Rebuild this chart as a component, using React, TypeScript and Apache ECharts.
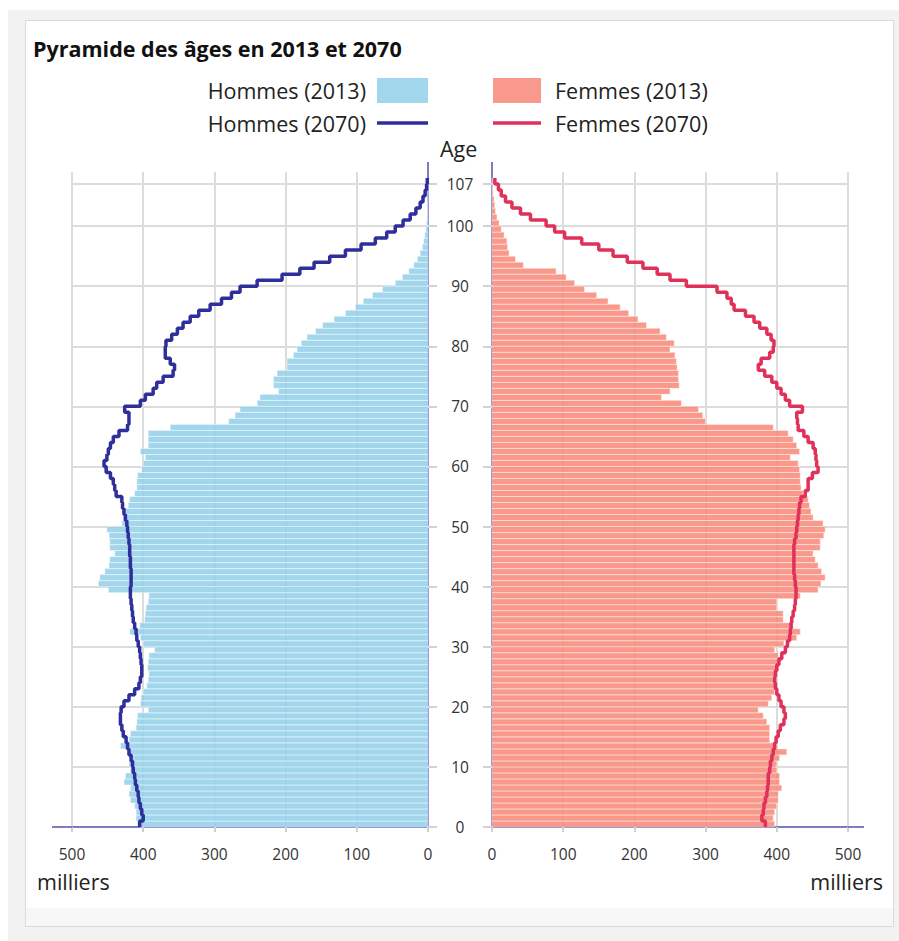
import React, { useEffect, useRef } from "react";
import * as echarts from "echarts";

// Age categories 0..107 (one bar per year of age)
const AGES: number[] = Array.from({ length: 108 }, (_, i) => i);
const AGE_TICKS = [0, 10, 20, 30, 40, 50, 60, 70, 80, 90, 100, 107];

const TITLE = "Pyramide des âges en 2013 et 2070";
const NAME_M13 = "Hommes (2013)";
const NAME_M70 = "Hommes (2070)";
const NAME_F13 = "Femmes (2013)";
const NAME_F70 = "Femmes (2070)";

// milliers, index = age
const HOMMES_2013 = [
  405, 410, 410, 412, 418, 420, 418, 427, 425, 418,
  420, 418, 419, 432, 420, 418, 410, 409, 408, 393,
  404, 403, 400, 395, 393, 392, 394, 393, 392, 384,
  400, 404, 419, 405, 398, 397, 396, 393, 392, 449,
  463, 461, 454, 448, 447, 440, 447, 447, 448, 451,
  430, 428, 425, 421, 419, 412, 409, 409, 408, 402,
  400, 397, 404, 393, 393, 393, 362, 280, 271, 264,
  240, 236, 210, 217, 217, 212, 198, 198, 189, 184,
  178, 170, 158, 148, 132, 116, 102, 91, 78, 64,
  46, 36, 27, 20, 15, 11, 8, 6, 4.5, 3,
  2, 1.4, 0.9, 0.6, 0.4, 0.2, 0.1, 0.1,
];

const HOMMES_2070 = [
  405, 400, 402, 404, 406, 407, 409, 411, 412, 414,
  415, 417, 420, 422, 424, 428, 430, 432, 432, 431,
  427, 420, 412, 406, 404, 402, 402, 403, 404, 405,
  407, 409, 410, 412, 414, 415, 416, 417, 418, 418,
  417, 417, 417, 418, 418, 419, 419, 420, 421, 422,
  423, 425, 427, 429, 430, 438, 440, 442, 446, 452,
  455, 451, 449, 446, 442, 434, 422, 420, 420, 426,
  404, 397, 386, 381, 372, 358, 356, 362, 369, 369,
  368, 360, 352, 344, 334, 322, 306, 290, 276, 264,
  240, 205, 180, 160, 138, 116, 94, 74, 58, 46,
  35, 25, 17, 11, 7, 4, 2, 1,
];

const FEMMES_2013 = [
  397, 395, 397, 400, 402, 402, 407, 404, 404, 400,
  400, 404, 414, 395, 390, 390, 390, 386, 381, 374,
  388, 393, 397, 397, 397, 397, 402, 402, 402, 397,
  410, 428, 433, 423, 409, 409, 400, 400, 433, 458,
  462, 468, 463, 458, 454, 451, 461, 461, 466, 468,
  465, 451, 448, 446, 444, 437, 434, 433, 433, 432,
  430, 419, 432, 428, 423, 416, 395, 300, 296, 290,
  266, 238, 250, 263, 262, 262, 260, 259, 257, 250,
  256, 245, 236, 217, 205, 192, 180, 163, 147, 130,
  116, 104, 90, 44, 33, 24, 22, 21, 17, 13,
  10, 7, 5, 4, 3, 1.5, 1, 0.5,
];

const FEMMES_2070 = [
  384, 379, 381, 382, 384, 386, 387, 388, 388, 390,
  391, 393, 395, 397, 399, 402, 405, 410, 412, 410,
  406, 403, 400, 398, 397, 398, 400, 403, 407, 412,
  415, 418, 419, 420, 421, 423, 425, 426, 427, 427,
  426, 425, 424, 424, 424, 424, 424, 425, 427, 428,
  429, 430, 431, 432, 434, 440, 444, 444, 450, 458,
  456, 455, 454, 451, 444, 438, 430, 429, 428, 436,
  418, 412, 406, 400, 393, 383, 374, 378, 390, 395,
  396, 392, 386, 376, 368, 356, 340, 336, 330, 316,
  273, 250, 232, 212, 190, 170, 150, 126, 102, 88,
  76, 54, 40, 28, 19, 13, 9, 4,
];

const FONT = "'Open Sans', 'Noto Sans', sans-serif";
const AXIS_PURPLE = "#7d7dc2";
const GRID_GRAY = "#dcdcdc";
const C_M13 = "rgba(146,207,233,0.85)";
const C_F13 = "rgba(248,135,119,0.85)";
const C_M70 = "#2f2f9b";
const C_F70 = "#e0315b";
const LINE_ICON = "path://M0 0H51V3.5H0Z";

function barRender(color: string) {
  return (params: any, api: any) => {
    const v = api.value(0);
    const a = api.value(1);
    const p0 = api.coord([0, a]);
    const p1 = api.coord([v, a + 1]);
    const x = Math.min(p0[0], p1[0]);
    const y = Math.min(p0[1], p1[1]);
    return {
      type: "rect",
      shape: { x, y, width: Math.abs(p1[0] - p0[0]), height: Math.abs(p1[1] - p0[1]) },
      style: { fill: color, stroke: "rgba(255,255,255,0.45)", lineWidth: 1 },
    };
  };
}

function lineData(values: number[]) {
  const pts = AGES.map((a, i) => [values[i], a]);
  // close the last one-year step at its upper edge
  pts.push([values[values.length - 1], AGES[AGES.length - 1] + 1]);
  return pts;
}

export default function App() {
  const ref = useRef<HTMLDivElement>(null);

  useEffect(() => {
    if (!ref.current) return;
    const chart = echarts.init(ref.current, null, { renderer: "svg" });

    const xAxisBase = (gridIndex: number, inverse: boolean) => ({
      gridIndex,
      type: "value",
      min: 0,
      max: 500,
      interval: 100,
      inverse,
      axisLine: { show: true, lineStyle: { color: AXIS_PURPLE, width: 2 } },
      axisTick: { show: true, length: 5, lineStyle: { color: "#cfcfcf", width: 2 } },
      axisLabel: { fontSize: 15.5, fontFamily: FONT, color: "#333", margin: 19 },
      splitLine: { show: true, lineStyle: { color: GRID_GRAY, width: 2 } },
    });

    const yAxisBase = (gridIndex: number, position: string, showLabel: boolean) => ({
      gridIndex,
      type: "value",
      min: 0,
      max: 109,
      position,
      axisLine: { show: true, onZero: false, lineStyle: { color: AXIS_PURPLE, width: 2 } },
      axisTick: {
        show: true,
        length: 9,
        customValues: AGE_TICKS,
        lineStyle: { color: "#d2d2d2", width: 2 },
      },
      axisLabel: {
        show: showLabel,
        customValues: AGE_TICKS,
        fontSize: 15.5,
        fontFamily: FONT,
        color: "#333",
        align: "center",
        margin: 32,
      },
      splitLine: { show: true, customValues: AGE_TICKS, lineStyle: { color: GRID_GRAY, width: 2 } },
    });

    const legendText = (pad: number[]) => ({
      fontSize: 21.5,
      fontFamily: FONT,
      color: "#222",
      padding: pad,
    });

    const option: any = {
      animation: false,
      backgroundColor: "transparent",
      title: {
        text: TITLE,
        left: 33,
        top: 37,
        padding: 0,
        textStyle: { fontSize: 21.5, fontWeight: "bold", fontFamily: FONT, color: "#111" },
      },
      legend: [
        {
          data: [
            { name: NAME_M13, icon: "rect" },
            { name: NAME_M70, icon: LINE_ICON },
          ],
          orient: "vertical",
          right: 471,
          top: 78,
          align: "right",
          itemWidth: 51,
          itemHeight: 25,
          itemGap: 9,
          padding: 0,
          selectedMode: false,
          textStyle: legendText([0, 6, 0, 0]),
        },
        {
          data: [
            { name: NAME_F13, icon: "rect" },
            { name: NAME_F70, icon: LINE_ICON },
          ],
          orient: "vertical",
          left: 493,
          top: 78,
          align: "left",
          itemWidth: 48,
          itemHeight: 25,
          itemGap: 9,
          padding: 0,
          selectedMode: false,
          textStyle: legendText([0, 0, 0, 9]),
        },
      ],
      grid: [
        { left: 72, top: 172, width: 356, height: 655 },
        { left: 492, top: 172, width: 356, height: 655 },
      ],
      xAxis: [xAxisBase(0, true), xAxisBase(1, false)],
      yAxis: [yAxisBase(0, "right", false), yAxisBase(1, "left", true)],
      series: [
        {
          name: NAME_M13,
          type: "custom",
          xAxisIndex: 0,
          yAxisIndex: 0,
          itemStyle: { color: C_M13 },
          encode: { x: 0, y: 1 },
          renderItem: barRender(C_M13),
          data: AGES.map((a, i) => [HOMMES_2013[i], a]),
          z: 2,
        },
        {
          name: NAME_F13,
          type: "custom",
          xAxisIndex: 1,
          yAxisIndex: 1,
          itemStyle: { color: C_F13 },
          encode: { x: 0, y: 1 },
          renderItem: barRender(C_F13),
          data: AGES.map((a, i) => [FEMMES_2013[i], a]),
          z: 2,
        },
        {
          name: NAME_M70,
          type: "line",
          xAxisIndex: 0,
          yAxisIndex: 0,
          step: "start",
          symbol: "none",
          showSymbol: false,
          clip: false,
          lineStyle: { color: C_M70, width: 3.5 },
          itemStyle: { color: C_M70 },
          data: lineData(HOMMES_2070),
          z: 5,
        },
        {
          name: NAME_F70,
          type: "line",
          xAxisIndex: 1,
          yAxisIndex: 1,
          step: "start",
          symbol: "none",
          showSymbol: false,
          clip: false,
          lineStyle: { color: C_F70, width: 3.5 },
          itemStyle: { color: C_F70 },
          data: lineData(FEMMES_2070),
          z: 5,
        },
      ],
      graphic: [
        {
          type: "text",
          left: 440,
          top: 137,
          style: { text: "Age", fontSize: 21.5, fontFamily: FONT, fill: "#222" },
        },
        {
          type: "text",
          left: 37,
          top: 870,
          style: { text: "milliers", fontSize: 21.5, fontFamily: FONT, fill: "#222" },
        },
        {
          type: "text",
          right: 16,
          top: 870,
          style: { text: "milliers", fontSize: 21.5, fontFamily: FONT, fill: "#222" },
        },
        // x-axis line extensions beyond 500
        {
          type: "line",
          shape: { x1: 52, y1: 827, x2: 72, y2: 827 },
          style: { stroke: AXIS_PURPLE, lineWidth: 2 },
          z: 10,
        },
        {
          type: "line",
          shape: { x1: 848, y1: 827, x2: 864, y2: 827 },
          style: { stroke: AXIS_PURPLE, lineWidth: 2 },
          z: 10,
        },
        // y-axis line extensions above the plot area
        {
          type: "line",
          shape: { x1: 428, y1: 162, x2: 428, y2: 173 },
          style: { stroke: AXIS_PURPLE, lineWidth: 2 },
          z: 10,
        },
        {
          type: "line",
          shape: { x1: 492, y1: 162, x2: 492, y2: 173 },
          style: { stroke: AXIS_PURPLE, lineWidth: 2 },
          z: 10,
        },
      ],
    };

    chart.setOption(option);
    return () => chart.dispose();
  }, []);

  return (
    <div
      style={{
        position: "absolute",
        left: 0,
        top: 0,
        width: 899,
        height: 941,
        background: "#ffffff",
        overflow: "hidden",
      }}
    >
      <div style={{ position: "absolute", left: 8, top: 10, right: 0, bottom: 0, background: "#f2f2f2" }} />
      <div
        style={{
          position: "absolute",
          left: 25,
          top: 20,
          width: 867,
          height: 905,
          background: "#ffffff",
          border: "1px solid #dadada",
        }}
      >
        <div style={{ position: "absolute", left: 0, right: 0, bottom: 0, height: 18, background: "#f7f7f7" }} />
      </div>
      <div ref={ref} style={{ position: "absolute", left: 0, top: 0, width: 899, height: 941 }} />
    </div>
  );
}
